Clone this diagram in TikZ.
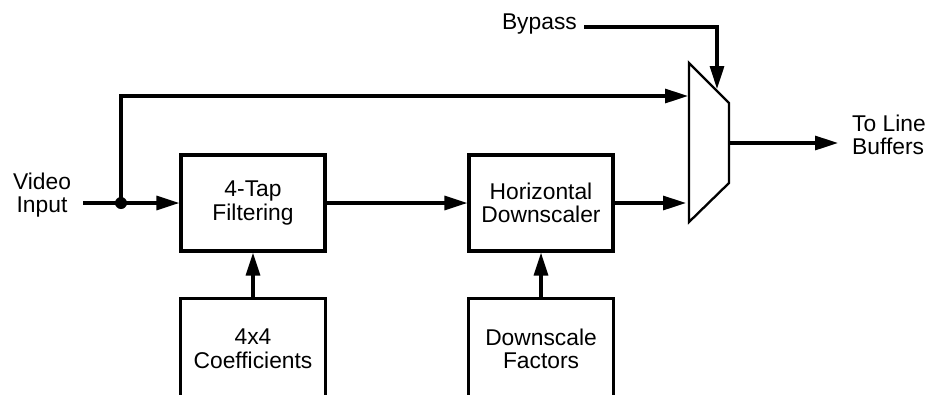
\documentclass[tikz,border=0pt]{standalone}
\usepackage{fontspec}
\setmainfont{Liberation Sans}
\usetikzlibrary{arrows.meta}
\begin{document}
\begin{tikzpicture}[x=1pt,y=-1pt,
  every node/.style={font=\fontsize{22.8}{23.5}\selectfont},
  blk/.style={draw, line width=3.2pt, minimum width=144pt, minimum height=96pt, align=center, inner sep=0pt},
  openblk/.style={minimum width=144pt, minimum height=100pt, align=center, inner sep=0pt},
  wire/.style={line width=3.2pt},
  arr/.style={wire, -{Triangle[length=23pt,width=14pt]}},
  lbl/.style={inner sep=0pt}]
\useasboundingbox (0,0) rectangle (925,394);
% labels
\node[lbl, align=center] (vin) at (42,195) {Video\\Input};
\node[lbl, anchor=east] (byp) at (577,24) {Bypass};
\node[lbl, anchor=west, align=left] (tolb) at (852,135) {To Line\\Buffers};
% blocks
\node[blk] (filt) at (253,203) {4-Tap\\Filtering};
\node[blk] (hds) at (541,203) {Horizontal\\Downscaler};
\node[openblk] (coef) at (253,349) {4x4\\Coefficients};
\node[openblk] (dsf) at (541,349) {Downscale\\Factors};
\draw[wire] (coef.south west) -- (coef.north west) -- (coef.north east) -- (coef.south east);
\draw[wire] (dsf.south west) -- (dsf.north west) -- (dsf.north east) -- (dsf.south east);
% mux
\coordinate (m1) at (689,63);
\coordinate (m2) at (729,103);
\coordinate (m3) at (729,183);
\coordinate (m4) at (689,222);
\draw[line width=2.3pt] (m1) -- (m2) -- (m3) -- (m4) -- cycle;
\coordinate (muxin1) at (688,96);
\coordinate (muxin2) at (686,203);
\coordinate (muxout) at (729,143);
\coordinate (muxsel) at (717,89);
% connectors
\coordinate (vstart) at (83,203);
\coordinate (tapc) at (121,96);
\coordinate (bstart) at (584,27);
\coordinate (bcorner) at (717,27);
\coordinate (otip) at (838,143);
\node[circle, fill, inner sep=0pt, minimum size=12pt] (dot) at (121,203) {};
\draw[arr] (vstart) -- (filt.west);
\draw[arr] (dot.center) -- (tapc) -- (muxin1);
\draw[arr] (filt.east) -- (hds.west);
\draw[arr] (hds.east) -- (muxin2);
\draw[arr] (coef.north) -- (filt.south);
\draw[arr] (dsf.north) -- (hds.south);
\draw[arr] (muxout) -- (otip);
\draw[arr] (bstart) -- (bcorner) -- (muxsel);
\end{tikzpicture}
\end{document}
